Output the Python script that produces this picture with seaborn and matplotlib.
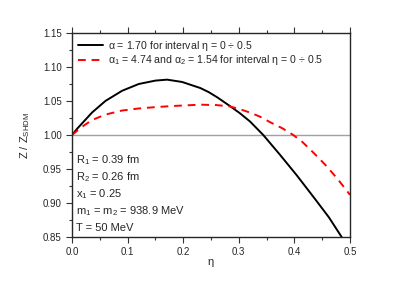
import numpy as np
import pandas as pd
import matplotlib
matplotlib.use("Agg")
import matplotlib.pyplot as plt
import matplotlib.ticker as mticker
import seaborn as sns

# ── DATA ──────────────────────────────────────────────────────────────────────
eta_single = [0.0, 0.009, 0.018, 0.036, 0.060, 0.090, 0.120, 0.150, 0.171,
              0.198, 0.231, 0.246, 0.262, 0.284, 0.302, 0.320, 0.344, 0.374,
              0.404, 0.437, 0.462, 0.485]
z_single   = [1.000, 1.009, 1.017, 1.033, 1.050, 1.065, 1.075, 1.080, 1.0814,
              1.078, 1.069, 1.063, 1.055, 1.0426, 1.032, 1.020, 1.000, 0.971,
              0.941, 0.906, 0.879, 0.850]

eta_double = [0.0, 0.009, 0.018, 0.036, 0.060, 0.090, 0.120, 0.150, 0.180,
              0.231, 0.260, 0.284, 0.302, 0.320, 0.338, 0.356, 0.378, 0.398,
              0.414, 0.428, 0.444, 0.458, 0.478, 0.500]
z_double   = [1.000, 1.006, 1.012, 1.022, 1.030, 1.036, 1.039, 1.041, 1.0426,
              1.0446, 1.044, 1.042, 1.038, 1.033, 1.027, 1.019, 1.010, 1.000,
              0.990, 0.979, 0.966, 0.954, 0.935, 0.912]

label_single = r"$\alpha$ = 1.70 for interval $\eta$ = 0 $\div$ 0.5"
label_double = r"$\alpha_1$ = 4.74 and $\alpha_2$ = 1.54 for interval $\eta$ = 0 $\div$ 0.5"

params = [r"R$_1$ = 0.39 fm", r"R$_2$ = 0.26 fm", r"x$_1$ = 0.25",
          r"m$_1$ = m$_2$ = 938.9 MeV", "T = 50 MeV"]

# ── STYLE ─────────────────────────────────────────────────────────────────────
sns.set_style("ticks")
plt.rcParams["font.family"] = ["Liberation Sans", "DejaVu Sans"]
plt.rcParams["mathtext.fontset"] = "custom"
plt.rcParams["mathtext.rm"] = "Liberation Sans"
plt.rcParams["mathtext.it"] = "Liberation Sans"
plt.rcParams["font.size"] = 7

df1 = pd.DataFrame({"eta": eta_single, "z": z_single})
df2 = pd.DataFrame({"eta": eta_double, "z": z_double})

fig = plt.figure(figsize=(4.07, 2.84), dpi=100)
ax = fig.add_axes([72 / 407, 1 - 237 / 284, 278 / 407, 204 / 284])

ax.axhline(1.0, color="#a0a0a0", lw=1.0, zorder=1)
sns.lineplot(data=df1, x="eta", y="z", ax=ax, color="black", lw=1.4,
             label=label_single)
sns.lineplot(data=df2, x="eta", y="z", ax=ax, color="red", lw=1.4,
             label=label_double)
ax.lines[-1].set_dashes((4, 3))

ax.set_xlim(0, 0.5)
ax.set_ylim(0.85, 1.15)
ax.xaxis.set_major_locator(mticker.MultipleLocator(0.1))
ax.xaxis.set_minor_locator(mticker.MultipleLocator(0.05))
ax.yaxis.set_major_locator(mticker.MultipleLocator(0.05))
ax.yaxis.set_minor_locator(mticker.MultipleLocator(0.025))
ax.xaxis.set_major_formatter(mticker.FormatStrFormatter("%.1f"))
ax.yaxis.set_major_formatter(mticker.FormatStrFormatter("%.2f"))
ax.tick_params(which="both", top=True, right=False, direction="out",
               labelsize=7, width=0.8, color="#333333")
ax.tick_params(which="major", length=4)
ax.tick_params(which="minor", length=2)
for s in ax.spines.values():
    s.set_linewidth(1.0)

ax.set_xlabel(r"$\eta$", fontsize=8, labelpad=0)
ax.set_ylabel(r"Z / Z$_{\mathrm{SHDM}}$", fontsize=8, labelpad=8)

leg = ax.legend(loc="upper left", frameon=False, fontsize=7.6,
                handlelength=2.4, handletextpad=0.5, borderaxespad=0.25,
                borderpad=0.3, labelspacing=0.05)
leg.get_lines()[1].set_dashes((4, 3))

for i, t in enumerate(params):
    ax.text(0.008, 0.963 - i * 0.025, t, fontsize=8, va="center", ha="left")

fig.savefig("out.png", dpi=100)
